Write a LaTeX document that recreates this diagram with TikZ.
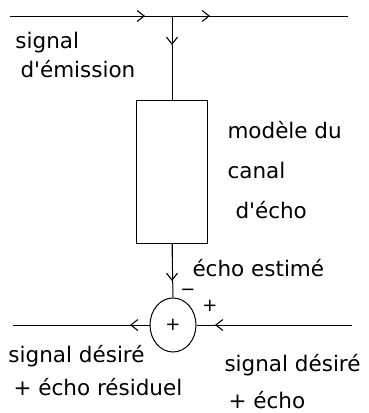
\documentclass[tikz,border=0pt]{standalone}
\usepackage{fontspec}
\setmainfont{DejaVu Sans}[Ligatures=TeXOff]
\usetikzlibrary{arrows.meta,shapes.geometric}
\begin{document}
\begin{tikzpicture}[x=1pt,y=-1pt,
  line width=1pt,
  arr/.style={-{Straight Barb[length=7pt,width=11pt,line width=1.1pt]}},
  lbl/.style={anchor=base west,inner sep=0pt,font=\fontsize{21.5}{24}\selectfont},
  sgn/.style={inner sep=0pt,font=\fontsize{18}{20}\selectfont}]
\useasboundingbox (0,0) rectangle (369,413);
% top line
\coordinate (tl) at (10,16);
\coordinate (tr) at (348,16);
\coordinate (j) at (172,16);
\coordinate (a1) at (145,16);
\coordinate (a2) at (210,16);
\coordinate (a3) at (172,45);
\draw (tl) -- (tr);
\draw[arr] (tl) -- (a1);
\draw[arr] (j) -- (a2);
% box
\node[draw,rectangle,minimum width=71pt,minimum height=143pt,inner sep=0pt] (box) at (172,171.5) {};
\draw (j) -- (box.north);
\draw[arr] (j) -- (a3);
% summing junction
\node[draw,ellipse,minimum width=46pt,minimum height=54pt,inner sep=0pt,font=\fontsize{18}{20}\selectfont] (sum) at (173,325) {+};
\coordinate (a4) at (172,281);
\draw (box.south) -- (sum.north);
\draw[arr] (box.south) -- (a4);
\coordinate (bl) at (13,325);
\coordinate (br) at (352,325);
\coordinate (a5) at (130,325);
\coordinate (a6) at (215,325);
\draw (sum.west) -- (bl);
\draw[arr] (sum.west) -- (a5);
\draw (br) -- (sum.east);
\draw[arr] (br) -- (a6);
\node[sgn] (minus) at (188,292) {\textminus};
\node[sgn] (plus) at (210,306) {+};
% labels
\node[lbl] (t1) at (15,48) {signal};
\node[lbl] (t2) at (20,77) {d'émission};
\node[lbl] (t3) at (227,138) {modèle du};
\node[lbl] (t4) at (227,178) {canal};
\node[lbl] (t5) at (235,218) {d'écho};
\node[lbl] (t6) at (192,276) {écho estimé};
\node[lbl] (t7) at (8,362) {signal désiré};
\node[lbl] (t8) at (13,395) {+ écho résiduel};
\node[lbl] (t9) at (224,371) {signal désiré};
\node[lbl] (t10) at (228,408) {+ écho};
\end{tikzpicture}
\end{document}
